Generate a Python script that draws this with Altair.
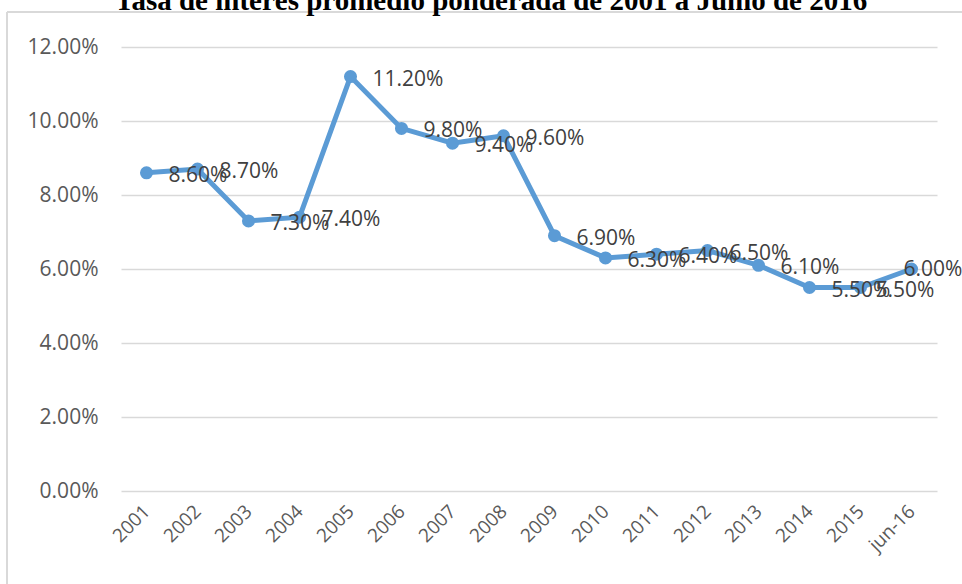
import altair as alt
import pandas as pd

title_text = "Tasa de interés promedio ponderada de 2001 a Junio de 2016"
periods = ["2001", "2002", "2003", "2004", "2005", "2006", "2007", "2008",
           "2009", "2010", "2011", "2012", "2013", "2014", "2015", "jun-16"]
rates = [0.086, 0.087, 0.073, 0.074, 0.112, 0.098, 0.094, 0.096,
         0.069, 0.063, 0.064, 0.065, 0.061, 0.055, 0.055, 0.060]
y_ticks = [0.0, 0.02, 0.04, 0.06, 0.08, 0.10, 0.12]

df = pd.DataFrame({"periodo": periods, "tasa": rates})
df["etiqueta"] = [f"{v*100:.2f}%" for v in rates]

W, H = 816, 444
FONT = "Open Sans"

x_enc = alt.X("periodo:N", sort=periods,
              scale=alt.Scale(type="point", padding=0.5),
              axis=alt.Axis(title=None, labelAngle=-45, labelAlign="right",
                            labelBaseline="middle", labelPadding=17,
                            labelFontSize=19, labelColor="#595959",
                            labelFont=FONT, domain=False, ticks=False,
                            grid=False))
y_enc = alt.Y("tasa:Q", scale=alt.Scale(domain=[0, 0.12], nice=False),
              axis=alt.Axis(title=None, values=y_ticks, format=".2%",
                            labelFontSize=21, labelColor="#595959",
                            labelFont=FONT, labelPadding=23,
                            domain=False, ticks=False, grid=True,
                            gridColor="#d9d9d9", gridWidth=1.6))

base = alt.Chart(df)
line = base.mark_line(color="#5b9bd5", strokeWidth=5).encode(x=x_enc, y=y_enc)
pts = base.mark_circle(color="#5b9bd5", size=170, opacity=1).encode(x=x_enc, y=y_enc)


def label_layer(dx, dy, sel):
    return base.transform_filter(sel).mark_text(
        align="left", baseline="middle", dx=dx, dy=dy,
        fontSize=21, font=FONT, color="#404040").encode(
        x=x_enc, y=y_enc, text="etiqueta:N")


labels_main = label_layer(22, 3, "datum.periodo != '2015' && datum.periodo != 'jun-16'")
labels_2015 = label_layer(15, 3, "datum.periodo == '2015'")
labels_last = label_layer(-8, 1, "datum.periodo == 'jun-16'")

title_df = pd.DataFrame({"t": [title_text]})
title = alt.Chart(title_df).mark_text(font="Liberation Serif", fontWeight="bold",
                                      fontSize=29, color="#000000",
                                      align="center", baseline="alphabetic").encode(
    x=alt.value(370), y=alt.value(-37), text="t:N")

frame_df = pd.DataFrame({"k": [1]})
left_edge = alt.Chart(frame_df).mark_rule(color="#d9d9d9", strokeWidth=2).encode(
    x=alt.value(-114), y=alt.value(-35), y2=alt.value(H + 100))
top_edge = alt.Chart(frame_df).mark_rule(color="#d9d9d9", strokeWidth=2).encode(
    x=alt.value(-114), x2=alt.value(W + 40), y=alt.value(-35))

chart = alt.layer(left_edge, top_edge, line, pts, labels_main, labels_2015,
                  labels_last, title).properties(
    width=W, height=H,
    autosize=alt.AutoSizeParams(type="none"),
    padding={"left": 121, "top": 47, "right": 25, "bottom": 93},
    background="white",
).configure_view(stroke=None)

chart.save("out.html", embed_options={"renderer": "svg", "actions": False})
